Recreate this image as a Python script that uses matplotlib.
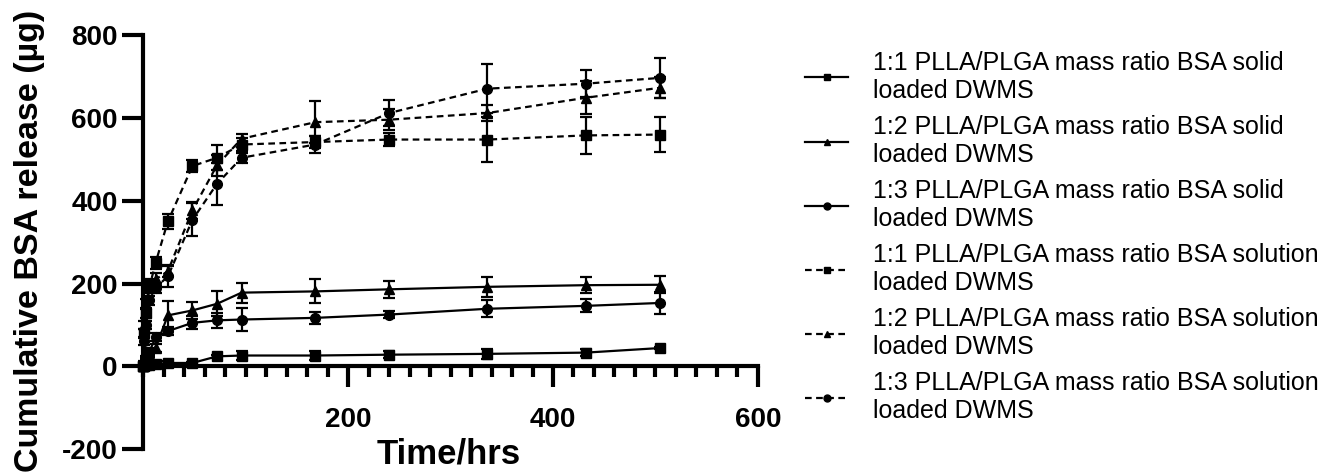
import numpy as np
import matplotlib
matplotlib.use("Agg")
import matplotlib.pyplot as plt
from matplotlib.ticker import MultipleLocator
from matplotlib.lines import Line2D

plt.rcParams['font.family'] = ['Liberation Sans', 'DejaVu Sans']
plt.rcParams['axes.unicode_minus'] = False

# time points (hrs)
hours = [0, 1, 3, 6, 12, 24, 48, 72, 96, 168, 240, 336, 432, 504]

# solid loaded
solid_11 = [0, 0, 2, 3, 5, 8, 8, 24, 26, 26, 28, 30, 33, 44]
solid_11_err = [0, 1, 1, 1, 2, 4, 3, 4, 11, 12, 8, 12, 8, 3]
solid_12 = [0, 8, 20, 30, 45, 123, 135, 151, 178, 181, 186, 192, 196, 197]
solid_12_err = [0, 4, 6, 8, 10, 34, 20, 30, 24, 29, 20, 24, 20, 20]
solid_13 = [0, 5, 15, 35, 70, 85, 105, 111, 113, 117, 125, 139, 146, 153]
solid_13_err = [0, 3, 5, 8, 10, 10, 16, 18, 28, 15, 8, 20, 16, 27]

# solution loaded
soln_11 = [0, 80, 128, 191, 250, 350, 484, 504, 536, 542, 548, 548, 558, 560]
soln_11_err = [0, 10, 12, 15, 15, 18, 15, 30, 15, 15, 15, 55, 45, 42]
soln_12 = [0, 100, 150, 200, 210, 230, 377, 486, 550, 590, 596, 612, 649, 673]
soln_12_err = [0, 10, 12, 12, 15, 15, 20, 25, 12, 50, 25, 20, 40, 25]
soln_13 = [0, 60, 100, 159, 190, 217, 354, 441, 504, 536, 612, 671, 683, 697]
soln_13_err = [0, 8, 10, 12, 12, 25, 40, 50, 12, 20, 32, 60, 32, 48]

labels = [
    "1:1 PLLA/PLGA mass ratio BSA solid\nloaded DWMS",
    "1:2 PLLA/PLGA mass ratio BSA solid\nloaded DWMS",
    "1:3 PLLA/PLGA mass ratio BSA solid\nloaded DWMS",
    "1:1 PLLA/PLGA mass ratio BSA solution\nloaded DWMS",
    "1:2 PLLA/PLGA mass ratio BSA solution\nloaded DWMS",
    "1:3 PLLA/PLGA mass ratio BSA solution\nloaded DWMS",
]

dashed = (0, (3, 2))
series = [
    (solid_11, solid_11_err, 's', '-'),
    (solid_12, solid_12_err, '^', '-'),
    (solid_13, solid_13_err, 'o', '-'),
    (soln_11, soln_11_err, 's', dashed),
    (soln_12, soln_12_err, '^', dashed),
    (soln_13, soln_13_err, 'o', dashed),
]

fig = plt.figure(figsize=(13.39, 4.75), dpi=100)
ax = fig.add_axes([0.107, 0.0547, 0.459, 0.871])

for vals, err, mk, ls in series:
    eb = ax.errorbar(hours, vals, yerr=err, color='black', marker=mk, markersize=7,
                     linestyle=ls, linewidth=1.6, elinewidth=1.6, capsize=4,
                     capthick=1.6)
    for a in eb.get_children():
        a.set_clip_on(False)

ax.set_xlim(0, 600)
ax.set_ylim(-200, 800)
ax.spines['top'].set_visible(False)
ax.spines['right'].set_visible(False)
ax.spines['bottom'].set_position(('data', 0))
for s in ['left', 'bottom']:
    ax.spines[s].set_linewidth(3)
ax.set_xticks([200, 400, 600])
ax.xaxis.set_minor_locator(MultipleLocator(20))
ax.set_yticks([-200, 0, 200, 400, 600, 800])
ax.tick_params(which='major', length=15, width=3, labelsize=20)
ax.tick_params(which='minor', length=8, width=3)
for t in ax.get_xticklabels() + ax.get_yticklabels():
    t.set_fontweight('bold')
ax.tick_params(axis='x', pad=14)
ax.set_xlabel("Time/hrs", fontsize=25, fontweight='bold')
ax.xaxis.set_label_coords(0.497, 0.028)
ax.set_ylabel("Cumulative BSA release (µg)", fontsize=24.5, fontweight='bold')
ax.yaxis.set_label_coords(-0.16, 0.502)

# legend with small markers
leg_handles = [Line2D([], [], color='black', marker=mk, markersize=5,
                      linestyle=ls, linewidth=1.6) for _, _, mk, ls in series]
fig.legend(leg_handles, labels, loc='upper left', bbox_to_anchor=(0.601, 0.893),
           frameon=False, fontsize=18, handlelength=1.75, handletextpad=1.0,
           labelspacing=0.49, borderpad=0, borderaxespad=0)

fig.savefig("out.png", dpi=100)
